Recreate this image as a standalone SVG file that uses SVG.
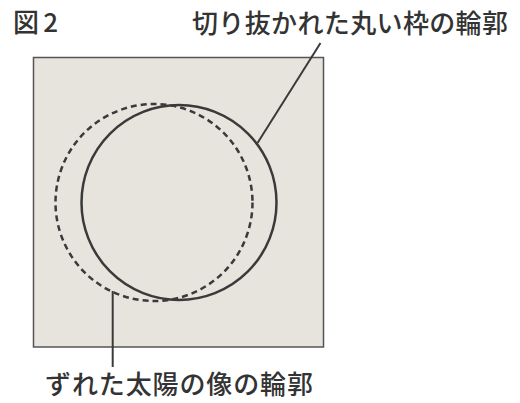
<svg xmlns="http://www.w3.org/2000/svg" width="520" height="403" viewBox="0 0 520 403">
<style>
.t{font-family:"Noto Sans CJK JP","Noto Sans",sans-serif;font-size:26px;fill:#333;font-weight:500}
.c{fill:none;stroke:#3a3a3a;stroke-width:2.5}
.l{stroke:#3a3a3a;stroke-width:2;fill:none}
</style>
<rect width="520" height="403" fill="#fff"/>
<g id="frame">
<rect x="33.5" y="57.5" width="290" height="289.5" fill="#e7e4de" stroke="#555" stroke-width="1.5"/>
</g>
<g id="cutout">
<circle cx="179" cy="202.5" r="97.5" fill="#fff" class="c"/>
</g>
<g id="sunimage">
<circle cx="154" cy="202.5" r="98.5" class="c" stroke-dasharray="6 4"/>
</g>
<g id="connectors">
<line x1="257.5" y1="143" x2="320.5" y2="43" class="l"/>
<line x1="112.7" y1="291" x2="112.7" y2="367" class="l"/>
</g>
<g id="labels">
<text class="t" x="13" y="32" textLength="45">図2</text>
<text class="t" x="192" y="33" textLength="316">切り抜かれた丸い枠の輪郭</text>
<text class="t" x="45" y="394" textLength="268" font-size="27">ずれた太陽の像の輪郭</text>
</g>
</svg>
